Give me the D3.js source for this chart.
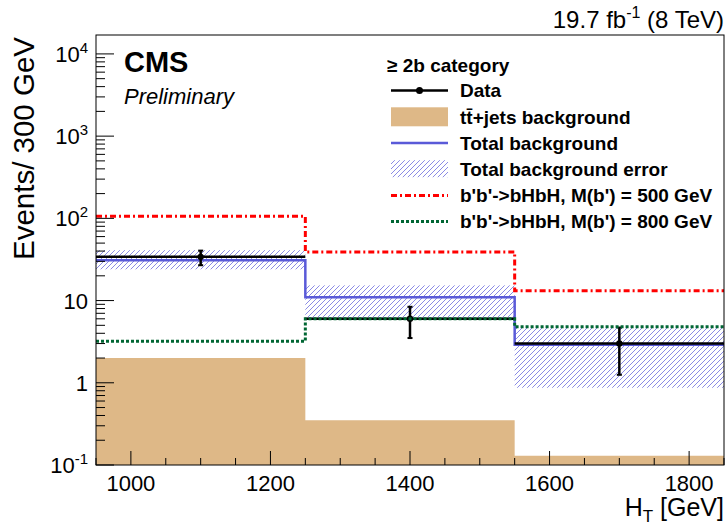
<!DOCTYPE html>
<html>
<head>
<meta charset="utf-8">
<script src="https://d3js.org/d3.v7.min.js"></script>
<style>
  body { margin: 0; background: #fff; }
  svg { font-family: "Liberation Sans", Arial, Helvetica, sans-serif; }
</style>
</head>
<body>
<div id="chart"></div>
<script>
// chart values
var binEdges = [950, 1250, 1550, 1850];
var dataCounts = [34, 6, 3];
var dataLow = [26.9, 3.5, 1.25];
var dataHigh = [40.5, 8.4, 4.7];
var ttbarBkg = [2.0, 0.35, 0.13];
var totalBkg = [31, 11, 2.9];
var bkgErrLow = [24, 6.2, 0.87];
var bkgErrHigh = [41, 15.3, 4.7];
var sig500 = [106, 39, 13.2];
var sig800 = [3.2, 6.0, 4.8];

var xTicks = [1000, 1200, 1400, 1600, 1800];
var yTicks = [0.1, 1, 10, 100, 1000, 10000];
var yTickBase = ["10", "1", "10", "10", "10", "10"];
var yTickExp = ["-1", "", "", "2", "3", "4"];

var legendEntries = [
  "Data",
  "tt\u0304+jets background",
  "Total background",
  "Total background error",
  "b'b'->bHbH, M(b') = 500 GeV",
  "b'b'->bHbH, M(b') = 800 GeV"
];

var svgWidth = 728;
var svgHeight = 527;
var pLeft = 96, pRight = 724, pTop = 35, pBottom = 465;

var svg = d3.select("#chart")
  .append("svg")
  .attr("width", svgWidth)
  .attr("height", svgHeight);

var xScale = d3.scaleLinear()
  .domain([950, 1850])
  .range([pLeft, pRight]);

var yScale = d3.scaleLog()
  .domain([0.1, Math.pow(10, 4.23)])
  .range([pBottom, pTop]);

var defs = svg.append("defs");
defs.append("clipPath").attr("id", "plotclip")
  .append("rect")
  .attr("x", pLeft).attr("y", pTop)
  .attr("width", pRight - pLeft).attr("height", pBottom - pTop);

var hatch = defs.append("pattern")
  .attr("id", "hatch")
  .attr("patternUnits", "userSpaceOnUse")
  .attr("width", 5).attr("height", 5);
hatch.append("path")
  .attr("d", "M0,5 L5,0 M-1,1 L1,-1 M4,6 L6,4")
  .attr("stroke", "#7575e0")
  .attr("stroke-width", 0.85);

// step points helper: one point per bin plus closing point
function stepPoints(vals) {
  var pts = vals.map(function(v, i) { return [binEdges[i], v]; });
  pts.push([binEdges[vals.length], vals[vals.length - 1]]);
  return pts;
}

var stepLine = d3.line()
  .x(d => xScale(d[0]))
  .y(d => yScale(d[1]))
  .curve(d3.curveStepAfter);

var stepArea = d3.area()
  .x(d => xScale(d[0]))
  .y0(pBottom)
  .y1(d => yScale(d[1]))
  .curve(d3.curveStepAfter);

var plot = svg.append("g").attr("clip-path", "url(#plotclip)");

// ttbar background fill
plot.append("path")
  .attr("d", stepArea(stepPoints(ttbarBkg)))
  .attr("fill", "#deb887");

// total background error band
plot.selectAll(".band")
  .data(totalBkg)
  .enter()
  .append("rect")
  .attr("x", (d, i) => xScale(binEdges[i]))
  .attr("width", (d, i) => xScale(binEdges[i + 1]) - xScale(binEdges[i]))
  .attr("y", (d, i) => yScale(bkgErrHigh[i]))
  .attr("height", (d, i) => yScale(bkgErrLow[i]) - yScale(bkgErrHigh[i]))
  .attr("fill", "url(#hatch)");

// total background line
plot.append("path")
  .attr("d", stepLine(stepPoints(totalBkg)))
  .attr("fill", "none")
  .attr("stroke", "#5a5ad8")
  .attr("stroke-width", 2.5);

// data: horizontal bin lines, error bars, markers
var dataG = plot.append("g");
dataCounts.forEach(function(v, i) {
  var xc = xScale((binEdges[i] + binEdges[i + 1]) / 2);
  dataG.append("line")
    .attr("x1", xScale(binEdges[i])).attr("x2", xScale(binEdges[i + 1]))
    .attr("y1", yScale(v)).attr("y2", yScale(v))
    .attr("stroke", "black").attr("stroke-width", 2.5);
  dataG.append("line")
    .attr("x1", xc).attr("x2", xc)
    .attr("y1", yScale(dataLow[i])).attr("y2", yScale(dataHigh[i]))
    .attr("stroke", "black").attr("stroke-width", 2.5);
  [dataLow[i], dataHigh[i]].forEach(function(e) {
    dataG.append("line")
      .attr("x1", xc - 2.5).attr("x2", xc + 2.5)
      .attr("y1", yScale(e)).attr("y2", yScale(e))
      .attr("stroke", "black").attr("stroke-width", 2);
  });
  dataG.append("circle")
    .attr("cx", xc).attr("cy", yScale(v)).attr("r", 3.2)
    .attr("fill", "black");
});

// signal 800 GeV (dotted green)
plot.append("path")
  .attr("d", stepLine(stepPoints(sig800)))
  .attr("fill", "none")
  .attr("stroke", "#006633")
  .attr("stroke-width", 3)
  .attr("stroke-dasharray", "3,2");

// signal 500 GeV (dash-dot red)
plot.append("path")
  .attr("d", stepLine(stepPoints(sig500)))
  .attr("fill", "none")
  .attr("stroke", "#ff0000")
  .attr("stroke-width", 3)
  .attr("stroke-dasharray", "6,3,2,3");

// frame
svg.append("rect")
  .attr("x", pLeft).attr("y", pTop)
  .attr("width", pRight - pLeft).attr("height", pBottom - pTop)
  .attr("fill", "none").attr("stroke", "black").attr("stroke-width", 1);

// x ticks (major every 200, minor every 50)
var xMinor = d3.range(950, 1851, 50);
svg.selectAll(".xtick")
  .data(xMinor)
  .enter()
  .append("line")
  .attr("x1", d => xScale(d)).attr("x2", d => xScale(d))
  .attr("y1", pBottom)
  .attr("y2", d => xTicks.indexOf(d) >= 0 ? pBottom - 14 : pBottom - 7)
  .attr("stroke", "black").attr("stroke-width", 1);

svg.selectAll(".xlab")
  .data(xTicks)
  .enter()
  .append("text")
  .attr("x", d => xScale(d))
  .attr("y", 491)
  .attr("text-anchor", "middle")
  .attr("font-size", 22)
  .text(d => d);

// y ticks
var yMinor = yScale.ticks().filter(d => d >= 0.1);
svg.selectAll(".ytick")
  .data(yMinor)
  .enter()
  .append("line")
  .attr("x1", pLeft)
  .attr("x2", d => yTicks.indexOf(d) >= 0 ? pLeft + 18 : pLeft + 9)
  .attr("y1", d => yScale(d)).attr("y2", d => yScale(d))
  .attr("stroke", "black").attr("stroke-width", 1);

var yLab = svg.selectAll(".ylab")
  .data(yTicks)
  .enter()
  .append("text")
  .attr("x", 88)
  .attr("y", d => yScale(d) + 8)
  .attr("text-anchor", "end")
  .attr("font-size", 22);
yLab.append("tspan").text((d, i) => yTickBase[i]);
yLab.append("tspan")
  .attr("dy", -9)
  .attr("font-size", 15)
  .text((d, i) => yTickExp[i]);

// axis titles
svg.append("text")
  .attr("transform", "translate(34,37) rotate(-90)")
  .attr("text-anchor", "end")
  .attr("font-size", 29.5)
  .text("Events/ 300 GeV");

var xt = svg.append("text")
  .attr("x", pRight)
  .attr("y", 516)
  .attr("text-anchor", "end")
  .attr("font-size", 25);
xt.append("tspan").text("H");
xt.append("tspan").attr("font-size", 17).attr("dy", 6).text("T");
xt.append("tspan").attr("dy", -6).text(" [GeV]");

// lumi label
var lumi = svg.append("text")
  .attr("x", pRight)
  .attr("y", 28)
  .attr("text-anchor", "end")
  .attr("font-size", 24);
lumi.append("tspan").text("19.7 fb");
lumi.append("tspan").attr("dy", -10).attr("font-size", 16).text("-1");
lumi.append("tspan").attr("dy", 10).text(" (8 TeV)");

svg.append("text")
  .attr("x", 124).attr("y", 72)
  .attr("font-size", 29).attr("font-weight", "bold")
  .text("CMS");
svg.append("text")
  .attr("x", 124).attr("y", 104)
  .attr("font-size", 22).attr("font-style", "italic")
  .text("Preliminary");

// legend
var lg = svg.append("g");
lg.append("text")
  .attr("x", 387).attr("y", 72)
  .attr("font-size", 19).attr("font-weight", "bold")
  .text("\u2265 2b category");

var rowY = d3.range(6).map(i => 90.6 + i * 26.2);
var sx0 = 391, sx1 = 448;

lg.selectAll(".lgtext")
  .data(legendEntries)
  .enter()
  .append("text")
  .attr("x", 460)
  .attr("y", (d, i) => rowY[i] + 6.8)
  .attr("font-size", 19)
  .attr("font-weight", "bold")
  .text(d => d);

// data symbol
lg.append("line").attr("x1", sx0).attr("x2", sx1)
  .attr("y1", rowY[0]).attr("y2", rowY[0])
  .attr("stroke", "black").attr("stroke-width", 2.5);
lg.append("circle").attr("cx", (sx0 + sx1) / 2).attr("cy", rowY[0]).attr("r", 3.5)
  .attr("fill", "black");
// ttbar box
lg.append("rect").attr("x", sx0).attr("y", rowY[1] - 9.5)
  .attr("width", sx1 - sx0).attr("height", 19)
  .attr("fill", "#deb887");
// total background line
lg.append("line").attr("x1", sx0).attr("x2", sx1)
  .attr("y1", rowY[2]).attr("y2", rowY[2])
  .attr("stroke", "#5a5ad8").attr("stroke-width", 2.5);
// error hatch
lg.append("rect").attr("x", sx0).attr("y", rowY[3] - 9)
  .attr("width", sx1 - sx0).attr("height", 17)
  .attr("fill", "url(#hatch)");
// signals
lg.append("line").attr("x1", sx0).attr("x2", sx1)
  .attr("y1", rowY[4]).attr("y2", rowY[4])
  .attr("stroke", "#ff0000").attr("stroke-width", 3)
  .attr("stroke-dasharray", "6,3,2,3");
lg.append("line").attr("x1", sx0).attr("x2", sx1)
  .attr("y1", rowY[5]).attr("y2", rowY[5])
  .attr("stroke", "#006633").attr("stroke-width", 3)
  .attr("stroke-dasharray", "3,2");
</script>
</body>
</html>
